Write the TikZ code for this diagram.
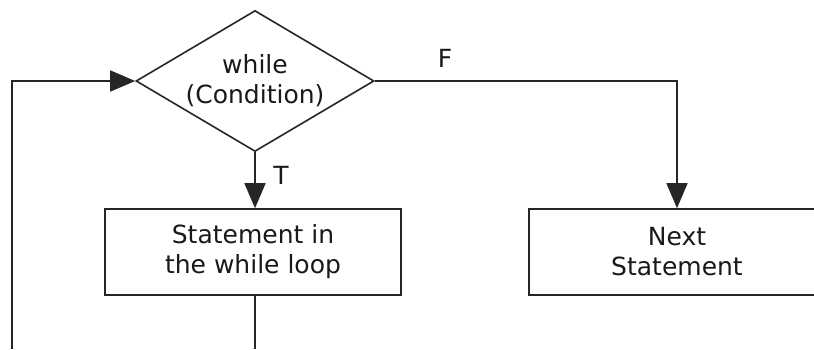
\documentclass[tikz,border=0pt]{standalone}
\usepackage{fontspec}
\setmainfont{DejaVu Sans}
\usetikzlibrary{shapes.geometric,arrows.meta}
\begin{document}
\begin{tikzpicture}[x=1pt,y=-1pt,
  every node/.style={font=\fontsize{25}{30}\selectfont, text=black!90},
  flowline/.style={draw=black!85, line width=1.6pt},
  flowarrow/.style={flowline, -{Triangle[length=25pt,width=21pt]}},
  stmtbox/.style={draw=black!85, line width=1.6pt, rectangle, minimum width=296pt,
    minimum height=86pt, inner sep=0pt, align=center},
  decision/.style={draw=black!85, line width=1.6pt, diamond, aspect=1.69,
    minimum width=238pt, minimum height=141pt, inner sep=0pt, align=center}]
  \useasboundingbox (0,0) rectangle (814,349);
  \fill[white] (0,0) rectangle (814,349);

  % decision and statements
  \node[decision] (cond) at (255,81) {while\\(Condition)};
  \node[stmtbox] (stmt) at (253,252) {Statement in\\the while loop};
  \node[stmtbox] (next) at (677,252) {Next\\Statement};

  % free ends running off the bottom edge
  \coordinate (loopbot) at (12,349);
  \coordinate (stmtend) at (255,349);

  % connectors
  \draw[flowarrow] (cond.south) -- (cond.south |- stmt.north);
  \draw[flowarrow] (cond.east) -| (next.north);
  \draw[flowarrow] (loopbot) |- (cond.west);
  \draw[flowline] (stmt.south -| stmtend) -- (stmtend);

  % branch labels
  \node (tlabel) at (281,175) {T};
  \node (flabel) at (445,58) {F};
\end{tikzpicture}
\end{document}
